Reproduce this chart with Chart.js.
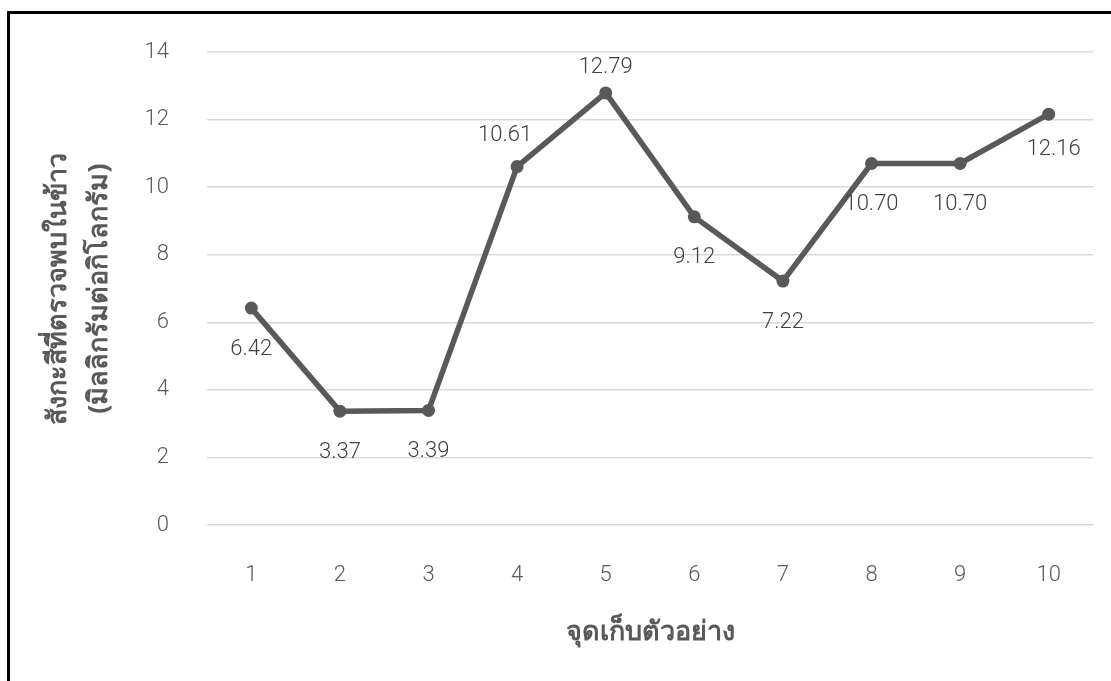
<!DOCTYPE html>
<html>
<head>
<meta charset="utf-8">
<script src="https://cdn.jsdelivr.net/npm/chart.js@4/dist/chart.umd.min.js"></script>
<style>
  html, body { margin: 0; padding: 0; background: #fff; }
  #wrap { position: absolute; left: 0; top: 0; width: 1111px; height: 681px; }
  #frame { position: absolute; left: 7px; top: 11px; right: 0; bottom: 0;
           border-left: 3px solid #000; border-top: 3px solid #000; }
</style>
</head>
<body>
<div id="frame"></div>
<div id="wrap"><canvas id="chart" width="1111" height="681"></canvas></div>
<script>
const sites = ['1', '2', '3', '4', '5', '6', '7', '8', '9', '10'];
const zinc = [6.42, 3.37, 3.39, 10.61, 12.79, 9.12, 7.22, 10.70, 10.70, 12.16];
const yTitle = ['สังกะสีที่ตรวจพบในข้าว', '(มิลลิกรัมต่อกิโลกรัม)'];
const xTitle = 'จุดเก็บตัวอย่าง';
// where each value label sits relative to its point
const labelPlace = ['below', 'below', 'below', 'aboveLeft', 'above', 'below', 'below', 'below', 'below', 'belowRight'];

const TICK_FONT = { family: 'Roboto, "Liberation Sans", sans-serif', size: 22, weight: 300 };
const TITLE_FAMILY = '"Noto Sans", "DejaVu Sans", sans-serif';
const offsets = {
  below: [0, 41], above: [0, -25], aboveLeft: [-12, -31], belowRight: [5, 35]
};

const valueLabels = {
  id: 'valueLabels',
  afterDatasetsDraw(chart){
    const ctx = chart.ctx;
    const meta = chart.getDatasetMeta(0);
    ctx.save();
    ctx.font = `${TICK_FONT.weight} ${TICK_FONT.size}px ${TICK_FONT.family}`;
    ctx.fillStyle = '#404040';
    ctx.textAlign = 'center';
    ctx.textBaseline = 'middle';
    meta.data.forEach((pt, i) => {
      const [dx, dy] = offsets[labelPlace[i]];
      ctx.fillText(zinc[i].toFixed(2), pt.x + dx, pt.y + dy);
    });
    ctx.restore();
  }
};

new Chart(document.getElementById('chart'), {
  type: 'line',
  data: {
    labels: sites,
    datasets: [{
      data: zinc,
      borderColor: '#595959',
      backgroundColor: '#595959',
      borderWidth: 5.5,
      pointRadius: 6.5,
      pointBackgroundColor: '#595959',
      pointBorderWidth: 0,
      tension: 0
    }]
  },
  options: {
    responsive: false,
    animation: false,
    layout: { padding: { top: 52, right: 18, bottom: 0, left: 0 } },
    plugins: { legend: { display: false }, tooltip: { enabled: false } },
    scales: {
      x: {
        offset: true,
        grid: { display: false, drawTicks: false },
        border: { display: false },
        ticks: { color: '#595959', font: TICK_FONT, padding: 37, maxRotation: 0 },
        title: {
          display: true, text: xTitle, color: '#595959',
          font: { family: TITLE_FAMILY, size: 27, weight: 'bold', lineHeight: 1.2 },
          padding: { top: 20, bottom: 32 }
        },
        afterFit(scale){ scale.height = 156; }
      },
      y: {
        min: 0, max: 14,
        ticks: { stepSize: 2, color: '#595959', font: TICK_FONT, padding: 38 },
        grid: { color: '#d9d9d9', lineWidth: 1.5, drawTicks: false },
        border: { display: false },
        title: {
          display: true, text: yTitle, color: '#595959',
          font: { family: TITLE_FAMILY, size: 27, weight: 'bold', lineHeight: 1.55 },
          padding: { top: 37, bottom: 0 }
        },
        afterFit(scale){ scale.width = 207; }
      }
    }
  },
  plugins: [valueLabels]
});
</script>
</body>
</html>
